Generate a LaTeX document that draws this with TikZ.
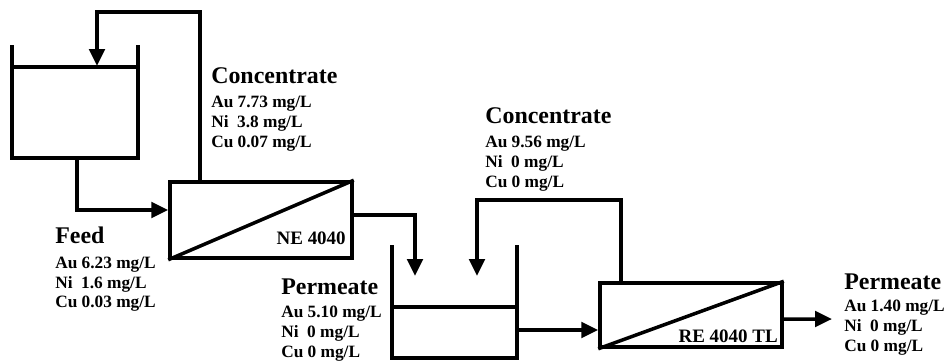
\documentclass[tikz,border=0pt]{standalone}
\usepackage{fontspec}
\setmainfont{Liberation Serif}
\usetikzlibrary{arrows.meta, positioning}

\newcommand{\hd}[1]{{\fontsize{17}{16}\selectfont #1}}

\begin{document}
\begin{tikzpicture}[
    x=0.025cm, y=-0.025cm,
    every node/.style={font=\bfseries},
    line/.style={line width=2.5pt},
    arr/.style={line, -{Triangle[length=12pt, width=11pt]}},
    module/.style={rectangle, draw, line width=2.5pt, minimum width=4.55cm, inner sep=0pt},
    stream/.style={anchor=north west, align=left, inner sep=0pt,
        font=\bfseries\fontsize{12.3}{14.2}\selectfont},
    tag/.style={anchor=base east, inner sep=0pt, font=\bfseries\fontsize{13.5}{14}\selectfont}
]
    \useasboundingbox (0,0) rectangle (951,363);

    % Tanks
    \draw[line] (12,45) |- (138,158) -- (138,45);
    \draw[line] (12,67) -- (138,67);
    \draw[line] (392,245) |- (517,358) -- (517,245);
    \draw[line] (392,307) -- (517,307);
    \coordinate (t1in) at (97,66);
    \coordinate (t1out) at (77,158);
    \coordinate (t2in) at (415,276);
    \coordinate (t2ret) at (477,276);
    \coordinate (t2out) at (517,330);
    \coordinate (prod) at (832,319);

    % Membrane modules
    \node[module, minimum height=1.9cm] (ne) at (261,220) {};
    \draw[line] (ne.south west) -- (ne.north east);
    \node[tag] (nelab) at (346,244) {NE 4040};
    \node[module, minimum height=1.6cm] (re) at (691,315) {};
    \draw[line] (re.south west) -- (re.north east);
    \node[tag] (relab) at (778,342) {RE 4040 TL};

    % Streams
    \draw[arr] (t1out) |- ([yshift=0.25cm]ne.west);
    \draw[arr] ([xshift=0.8cm]ne.north west) |- (97,12) -- (t1in);
    \draw[arr] ([yshift=0.125cm]ne.east) -| (t2in);
    \draw[arr] ([xshift=0.575cm]re.north west) |- (477,200) -- (t2ret);
    \draw[arr] (t2out) -- (t2out -| re.west);
    \draw[arr] ([yshift=-0.1cm]re.east) -- (prod);

    % Labels
    \node[stream] (conc1) at (211,67) {\hd{Concentrate}\\[3pt]Au 7.73 mg/L\\Ni\enspace 3.8 mg/L\\Cu 0.07 mg/L};
    \node[stream] (feed) at (55,227) {\hd{Feed}\\[3pt]Au 6.23 mg/L\\Ni\enspace 1.6 mg/L\\Cu 0.03 mg/L};
    \node[stream] (perm1) at (281,279) {\hd{Permeate}\\[2pt]Au 5.10 mg/L\\Ni\enspace 0 mg/L\\Cu 0 mg/L};
    \node[stream] (conc2) at (485,107) {\hd{Concentrate}\\[3pt]Au 9.56 mg/L\\Ni\enspace 0 mg/L\\Cu 0 mg/L};
    \node[stream] (perm2) at (844,274) {\hd{Permeate}\\[1pt]Au 1.40 mg/L\\Ni\enspace 0 mg/L\\Cu 0 mg/L};
\end{tikzpicture}
\end{document}
